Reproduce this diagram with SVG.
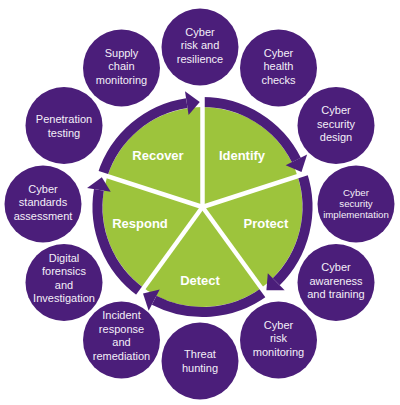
<svg xmlns="http://www.w3.org/2000/svg" width="400" height="405" viewBox="0 0 400 405">
<style>
.node circle{fill:#4b1e7a}
.node text{fill:#f4eff8;font-family:"Liberation Sans",Arial,sans-serif;font-size:11px;text-anchor:middle}
.node text.sm{font-size:9.7px}
.band{fill:none;stroke:#4b1e7a;stroke-width:10}
.head{fill:#4b1e7a}
.spoke{stroke:#ffffff;stroke-width:4.5}
.seg text{fill:#ffffff;font-family:"Liberation Sans",Arial,sans-serif;font-size:13px;font-weight:bold;text-anchor:middle}
</style>
<rect width="400" height="405" fill="#ffffff"/>
<g id="wheel">
<circle cx="202.5" cy="207" r="100" fill="#9dc43c"/>
</g>
<g id="connectors">
<path class="band" d="M102.64,174.55 A105,105 0 0 1 186.80,103.18"/>
<polygon class="head" points="188.59,115.05 185.00,91.32 199.75,102.04"/>
<path class="band" d="M202.5,102 A105,105 0 0 1 296.39,159.99"/>
<polygon class="head" points="285.66,165.36 307.12,154.61 301.48,171.95"/>
<path class="band" d="M302.36,174.55 A105,105 0 0 1 276.23,281.76"/>
<polygon class="head" points="267.80,273.22 284.65,290.31 266.42,290.30"/>
<path class="band" d="M264.22,291.95 A105,105 0 0 1 154.18,300.22"/>
<polygon class="head" points="159.70,289.57 148.66,310.87 143.03,293.53"/>
<path class="band" d="M140.78,291.95 A105,105 0 0 1 98.91,189.85"/>
<polygon class="head" points="110.75,191.81 87.07,187.89 101.82,177.18"/>
<line class="spoke" x1="202.5" y1="207" x2="202.5" y2="89"/>
<line class="spoke" x1="202.5" y1="207" x2="314.72" y2="170.54"/>
<line class="spoke" x1="202.5" y1="207" x2="271.86" y2="302.46"/>
<line class="spoke" x1="202.5" y1="207" x2="133.14" y2="302.46"/>
<line class="spoke" x1="202.5" y1="207" x2="90.28" y2="170.54"/>
</g>
<g class="seg">
<g id="recover"><text x="158" y="159.5">Recover</text></g>
<g id="identify"><text x="242" y="159.5">Identify</text></g>
<g id="protect"><text x="266" y="227.5">Protect</text></g>
<g id="detect"><text x="200" y="284.5">Detect</text></g>
<g id="respond"><text x="140" y="227.5">Respond</text></g>
</g>
<g class="node" id="n-risk-resilience"><circle cx="200" cy="47" r="38.5"/><text x="200" y="35.5">Cyber</text><text x="200" y="49">risk and</text><text x="200" y="62.5">resilience</text></g>
<g class="node" id="n-health"><circle cx="278.5" cy="68" r="38.5"/><text x="278.5" y="56.5">Cyber</text><text x="278.5" y="70">health</text><text x="278.5" y="83.5">checks</text></g>
<g class="node" id="n-design"><circle cx="336" cy="125.5" r="38.5"/><text x="336" y="114">Cyber</text><text x="336" y="127.5">security</text><text x="336" y="141">design</text></g>
<g class="node" id="n-implementation"><circle cx="356" cy="204" r="38.5"/><text class="sm" x="356" y="196">Cyber</text><text class="sm" x="356" y="207">security</text><text class="sm" x="356" y="218">implementation</text></g>
<g class="node" id="n-awareness"><circle cx="336" cy="282.5" r="38.5"/><text x="336" y="271">Cyber</text><text x="336" y="284.5">awareness</text><text x="336" y="298">and training</text></g>
<g class="node" id="n-risk-monitoring"><circle cx="278.5" cy="340" r="38.5"/><text x="278.5" y="328.5">Cyber</text><text x="278.5" y="342">risk</text><text x="278.5" y="355.5">monitoring</text></g>
<g class="node" id="n-threat"><circle cx="200" cy="361" r="38.5"/><text x="200" y="358">Threat</text><text x="200" y="372">hunting</text></g>
<g class="node" id="n-incident"><circle cx="121.5" cy="340" r="38.5"/><text x="121.5" y="319">Incident</text><text x="121.5" y="332.5">response</text><text x="121.5" y="346">and</text><text x="121.5" y="359.5">remediation</text></g>
<g class="node" id="n-forensics"><circle cx="64" cy="282.5" r="38.5"/><text x="64" y="261.5">Digital</text><text x="64" y="275">forensics</text><text x="64" y="288.5">and</text><text x="64" y="302">Investigation</text></g>
<g class="node" id="n-standards"><circle cx="43" cy="204" r="38.5"/><text x="43" y="192.5">Cyber</text><text x="43" y="206">standards</text><text x="43" y="219.5">assessment</text></g>
<g class="node" id="n-penetration"><circle cx="64" cy="125.5" r="38.5"/><text x="64" y="123">Penetration</text><text x="64" y="137">testing</text></g>
<g class="node" id="n-supply"><circle cx="121.5" cy="68" r="38.5"/><text x="121.5" y="56.5">Supply</text><text x="121.5" y="70">chain</text><text x="121.5" y="83.5">monitoring</text></g>
</svg>
